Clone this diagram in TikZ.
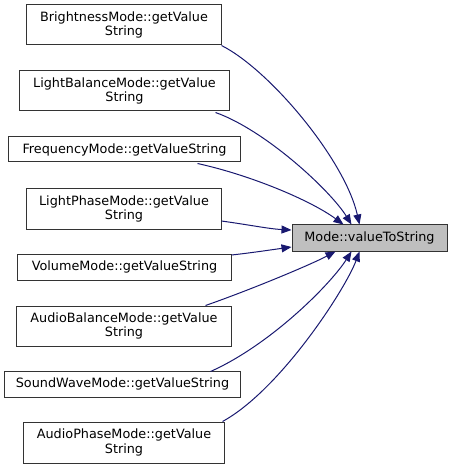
\documentclass[tikz,border=0pt]{standalone}
\usepackage{fontspec}
\setmainfont{DejaVu Sans}
\usetikzlibrary{arrows.meta,calc}
\definecolor{edgeblue}{HTML}{191970}
\definecolor{tgtfill}{HTML}{BFBFBF}
\begin{document}
\begin{tikzpicture}[x=1bp,y=-1bp,
 box/.style={draw=black!80, line width=1bp, fill=white, inner sep=0pt, align=center, font=\fontsize{12.8bp}{14.5bp}\selectfont},
 tgt/.style={box, fill=tgtfill},
 edge/.style={draw=edgeblue, line width=1bp, -{Triangle[length=10bp,width=8bp]}}]
\useasboundingbox (0,0) rectangle (452,469);
\node[box, minimum width=194bp, minimum height=40bp] (b1) at (124,25) {BrightnessMode::getValue\\String};
\node[box, minimum width=209bp, minimum height=40bp] (b2) at (124.5,91) {LightBalanceMode::getValue\\String};
\node[box, minimum width=231bp, minimum height=25bp] (b3) at (124.5,149.5) {FrequencyMode::getValueString};
\node[box, minimum width=194bp, minimum height=40bp] (b4) at (124,209) {LightPhaseMode::getValue\\String};
\node[box, minimum width=213bp, minimum height=26bp] (b5) at (124.5,267) {VolumeMode::getValueString};
\node[box, minimum width=214bp, minimum height=40bp] (b6) at (124,326) {AudioBalanceMode::getValue\\String};
\node[box, minimum width=235bp, minimum height=26bp] (b7) at (122.5,384) {SoundWaveMode::getValueString};
\node[box, minimum width=200bp, minimum height=41bp] (b8) at (124,442.5) {AudioPhaseMode::getValue\\String};
\node[tgt, minimum width=155bp, minimum height=26bp] (T) at (369.5,238) {Mode::valueToString};

\draw[edge] (b1.south east) .. controls (270,70) and (345,160) .. ($(T.north)+(-10,0)$);
\draw[edge] ($(b2.south east)+(-14,1)$) .. controls (265,130) and (330,190) .. ($(T.north)+(-18,0)$);
\draw[edge] ($(b3.south east)+(-43,1)$) .. controls (250,175) and (310,200) .. ($(T.north)+(-26,0)$);
\draw[edge] ($(b4.east)+(0,12)$) .. controls (250,225) and (270,229) .. ($(T.west)+(0,-8)$);
\draw[edge] ($(b5.east)+(0,-12)$) .. controls (250,253) and (270,250) .. ($(T.west)+(0,9)$);
\draw[edge] ($(b6.north east)+(-26,0)$) .. controls (250,290) and (310,265) .. ($(T.south)+(-34,0)$);
\draw[edge] ($(b7.north east)+(-30,1)$) .. controls (270,345) and (330,285) .. ($(T.south)+(-18,0)$);
\draw[edge] ($(b8.north east)+(-2,0)$) .. controls (280,390) and (345,290) .. ($(T.south)+(-10,0)$);
\end{tikzpicture}
\end{document}
